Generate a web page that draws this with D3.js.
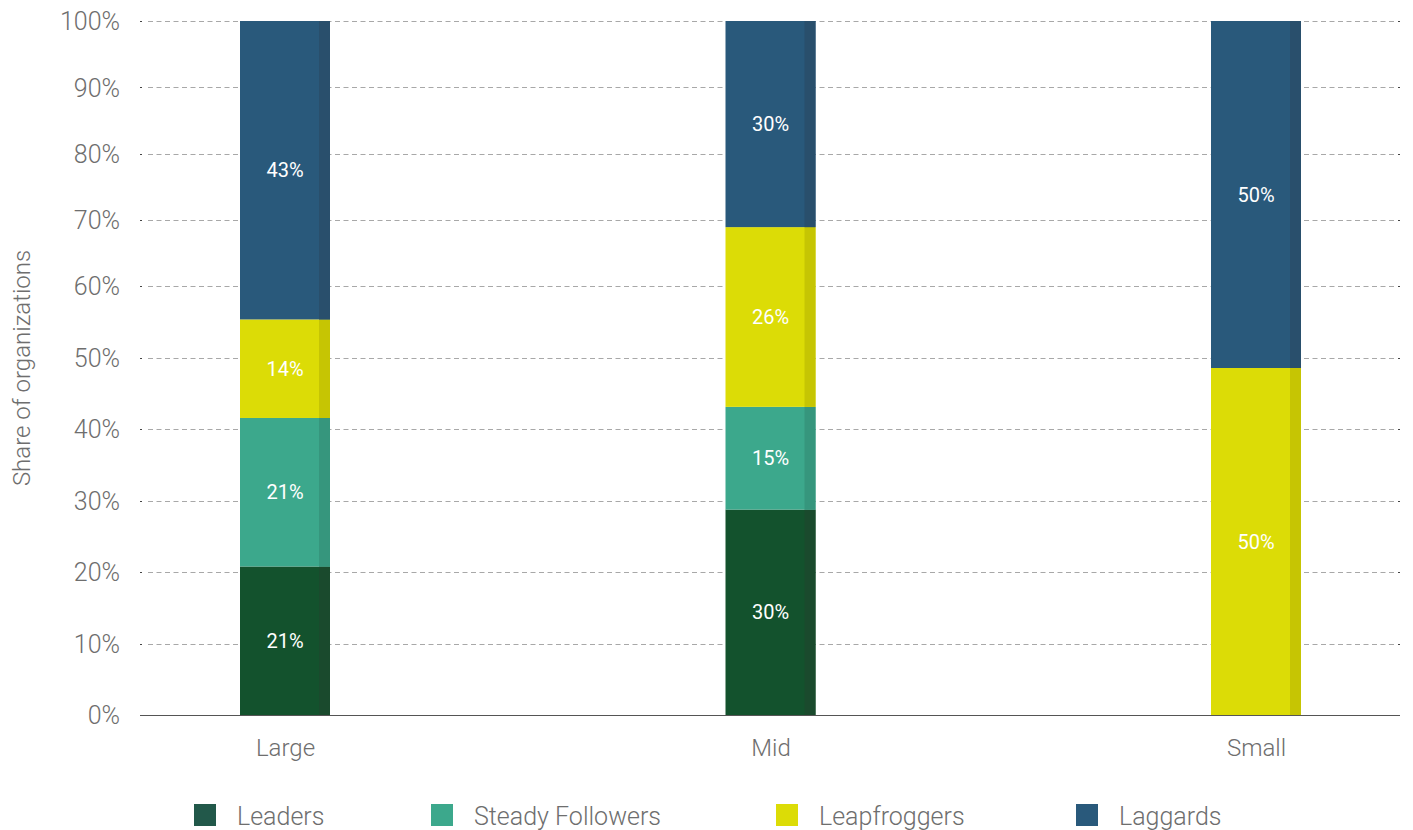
<!DOCTYPE html>
<html><head><meta charset="utf-8">
<script src="https://cdn.jsdelivr.net/npm/d3@7"></script>
<style>body{margin:0;background:#fff;}svg{display:block;}svg text{font-family:Roboto,"Open Sans",sans-serif;}</style>
</head><body>
<svg id="chart" width="1413" height="830"></svg>
<script>
const categories = ["Large", "Mid", "Small"];
const seriesNames = ["Leaders", "Steady Followers", "Leapfroggers", "Laggards"];
const leaders = [21.4, 29.6, 0];
const steadyFollowers = [21.4, 14.8, 0];
const leapfroggers = [14.2, 25.9, 50];
const laggards = [43.0, 29.7, 50];
const valueLabels = [
  ["21%", "30%", ""],
  ["21%", "15%", ""],
  ["14%", "26%", "50%"],
  ["43%", "30%", "50%"]
];
const yTicks = [0, 10, 20, 30, 40, 50, 60, 70, 80, 90, 100];

const colors = {"Leaders":"#13522d","Steady Followers":"#3ca88c","Leapfroggers":"#dcdc06","Laggards":"#29597b"};
const edgeColors = {"Leaders":"#1a4a2d","Steady Followers":"#36967d","Leapfroggers":"#c6c503","Laggards":"#294f6c"};
const legendColors = {"Leaders":"#22584a","Steady Followers":"#3ca88c","Leapfroggers":"#dcdc06","Laggards":"#29597b"};

const seriesValues = [leaders, steadyFollowers, leapfroggers, laggards];
const rows = categories.map((c, i) => {
  const r = {cat: c};
  seriesNames.forEach((s, j) => r[s] = seriesValues[j][i]);
  return r;
});
const stack = d3.stack().keys(seriesNames)(rows);

const svg = d3.select("#chart");
const plotLeft = 140, plotRight = 1400, plotTop = 21, plotBottom = 715;
const barW = 90, edgeW = 11;
const txt = "#6e6e6e";

// bar value scale
const y = d3.scaleLinear().domain([0, 100]).range([plotBottom, plotTop]);
// axis/grid scale (the reference's gridlines are spaced unevenly)
const yGrid = d3.scaleLinear().domain([0, 60, 100]).range([plotBottom, 286, plotTop]);
const x = d3.scalePoint().domain(categories).range([285, 1256]);

// gridlines
const gl = svg.append("g").selectAll("g").data(yTicks.filter(t => t > 0)).join("g");
gl.append("line")
  .attr("x1", plotLeft + 8).attr("x2", plotRight - 4)
  .attr("y1", d => Math.round(yGrid(d)) + 0.5).attr("y2", d => Math.round(yGrid(d)) + 0.5)
  .attr("stroke", "#a8a8a8").attr("stroke-width", 1).attr("stroke-dasharray", "5,3.5");
gl.append("line")
  .attr("x1", plotLeft).attr("x2", plotLeft + 2)
  .attr("y1", d => Math.round(yGrid(d)) + 0.5).attr("y2", d => Math.round(yGrid(d)) + 0.5)
  .attr("stroke", "#444").attr("stroke-width", 1);
gl.append("line")
  .attr("x1", plotRight - 2).attr("x2", plotRight)
  .attr("y1", d => Math.round(yGrid(d)) + 0.5).attr("y2", d => Math.round(yGrid(d)) + 0.5)
  .attr("stroke", "#444").attr("stroke-width", 1);

// y axis labels
const yAxis = d3.axisLeft(yGrid).tickValues(yTicks).tickFormat(d => d + "%").tickSize(0).tickPadding(0);
const yg = svg.append("g").attr("transform", "translate(120,0)").call(yAxis)
  .attr("font-family", null).attr("font-size", null);
yg.select(".domain").remove();
yg.selectAll("text").attr("fill", txt).style("font-size", "25px").style("font-weight", 300).attr("dy", "0.35em");

// bars
const layer = svg.append("g").selectAll("g").data(stack).join("g");
layer.selectAll("rect.main").data(d => d.map(v => ({key: d.key, v}))).join("rect")
  .attr("class", "main")
  .attr("x", d => x(d.v.data.cat) - barW / 2)
  .attr("y", d => y(d.v[1]))
  .attr("width", barW)
  .attr("height", d => y(d.v[0]) - y(d.v[1]))
  .attr("fill", d => colors[d.key]);
layer.selectAll("rect.edge").data(d => d.map(v => ({key: d.key, v}))).join("rect")
  .attr("class", "edge")
  .attr("x", d => x(d.v.data.cat) + barW / 2 - edgeW)
  .attr("y", d => y(d.v[1]))
  .attr("width", edgeW)
  .attr("height", d => y(d.v[0]) - y(d.v[1]))
  .attr("fill", d => edgeColors[d.key]);

// value labels
stack.forEach((s, j) => {
  svg.append("g").selectAll("text").data(s).join("text")
    .attr("x", d => x(d.data.cat))
    .attr("y", d => y((d[0] + d[1]) / 2))
    .attr("dy", "0.35em")
    .attr("text-anchor", "middle")
    .attr("fill", "#fff")
    .style("font-size", "20px")
    .text((d, i) => valueLabels[j][i]);
});

// baseline
svg.append("line").attr("x1", plotLeft).attr("x2", plotRight)
  .attr("y1", y(0) + 0.5).attr("y2", y(0) + 0.5).attr("stroke", "#555").attr("stroke-width", 1);

// x axis labels
const xAxis = d3.axisBottom(x).tickSize(0).tickPadding(0);
const xg = svg.append("g").attr("transform", `translate(0,${plotBottom + 41})`).call(xAxis)
  .attr("font-family", null).attr("font-size", null);
xg.select(".domain").remove();
xg.selectAll("text").attr("fill", txt).style("font-size", "24px").style("font-weight", 300).attr("dy", "0");

// y title
svg.append("text")
  .attr("transform", `translate(30,${(plotTop + plotBottom) / 2}) rotate(-90)`)
  .attr("text-anchor", "middle")
  .attr("fill", txt).style("font-size", "24px").style("font-weight", 300)
  .text("Share of organizations");

// legend
const legendX = d3.scaleOrdinal().domain(seriesNames).range([194, 431, 776, 1076]);
const lg = svg.append("g").selectAll("g").data(seriesNames).join("g")
  .attr("transform", d => `translate(${legendX(d)},804)`);
lg.append("rect").attr("width", 22).attr("height", 22).attr("fill", d => legendColors[d]);
lg.append("text").attr("x", 43).attr("y", 21)
  .attr("fill", txt).style("font-size", "25px").style("font-weight", 300)
  .text(d => d);
</script>
</body></html>
